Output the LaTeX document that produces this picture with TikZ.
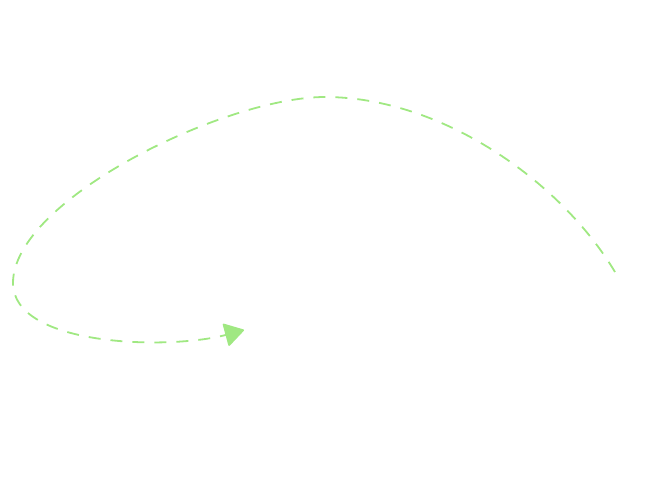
\documentclass[tikz,border=0pt]{standalone}
\usetikzlibrary{arrows.meta}
\definecolor{lg}{RGB}{160,232,130}
\begin{document}
\begin{tikzpicture}[x=1pt,y=-1pt,
  flow/.style={draw=lg,line width=1.8pt,dash pattern=on 12pt off 10pt,
    -{Triangle[round,length=20pt,width=24pt,fill=lg]}}]
\useasboundingbox (0,0) rectangle (652,497);
\coordinate (s) at (615,272);
\coordinate (t) at (325,97);
\coordinate (l) at (13,283);
\coordinate (e) at (244,330);
\draw[flow] (s) .. controls (560,180) and (440,97) .. (t)
  .. controls (225,97) and (13,200) .. (l)
  .. controls (13,347) and (170,350) .. (e);
\end{tikzpicture}
\end{document}
